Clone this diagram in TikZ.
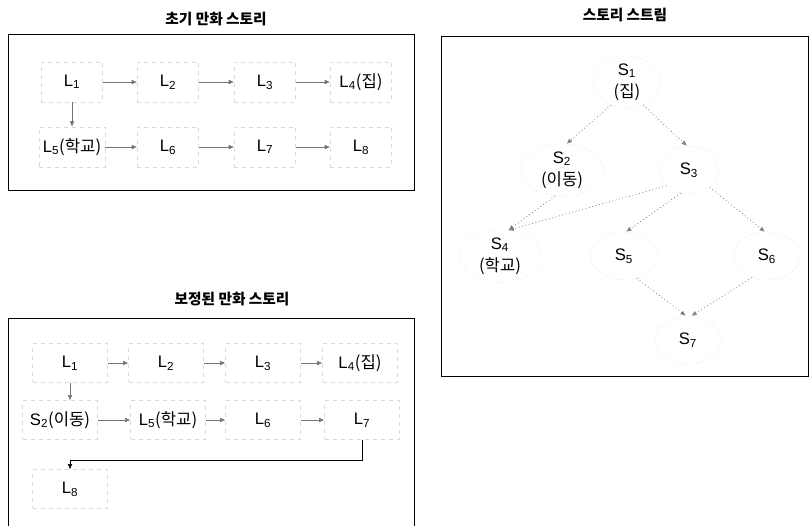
\documentclass[tikz,border=0pt]{standalone}
\usepackage{fontspec}
\setmainfont{Liberation Sans}
\newfontfamily\kr{Noto Sans CJK KR}
\usetikzlibrary{arrows.meta,shapes.geometric}
\newcommand\lsub[2]{#1\textsubscript{#2}}
\tikzset{
  panel/.style={draw=black,line width=0.6pt},
  ptitle/.style={font=\kr\bfseries\fontsize{11}{13}\selectfont},
  lbox/.style={draw=gray!30,dashed,rectangle,minimum width=46pt,minimum height=30pt,inner sep=3pt,font=\fontsize{12.5}{14}\selectfont},
  lboxb/.style={lbox,minimum width=56pt,minimum height=29pt},
  snode/.style={draw=gray!40,dotted,ellipse,inner sep=0pt,minimum width=50pt,minimum height=36pt,align=center,font=\fontsize{12.5}{16.5}\selectfont},
  conn/.style={draw=black!55,line width=0.45pt,-{Latex[length=4pt,width=3.5pt]}},
  sconn/.style={draw=black!50,dotted,line width=0.6pt,-{Latex[length=4pt,width=3.5pt]}}
}
\begin{document}
\begin{tikzpicture}[x=0.75pt,y=-0.75pt]
\useasboundingbox (0,0) rectangle (810,526);
% ---------- panel 1
\node[ptitle] (t1) at (216,19) {초기 만화 스토리};
\draw[panel] (8,34) rectangle (414,190);
\node[lbox] (a1) at (72,82) {\lsub{L}{1}};
\node[lbox] (a2) at (168,82) {\lsub{L}{2}};
\node[lbox] (a3) at (265,82) {\lsub{L}{3}};
\node[lbox] (a4) at (361,82) {\lsub{L}{4}{\kr(집)}};
\node[lbox] (a5) at (72,147) {\lsub{L}{5}{\kr(학교)}};
\node[lbox] (a6) at (168,147) {\lsub{L}{6}};
\node[lbox] (a7) at (265,147) {\lsub{L}{7}};
\node[lbox] (a8) at (361,147) {\lsub{L}{8}};
\draw[conn] (a1) -- (a2);
\draw[conn] (a2) -- (a3);
\draw[conn] (a3) -- (a4);
\draw[conn] (a1) -- (a5);
\draw[conn] (a5) -- (a6);
\draw[conn] (a6) -- (a7);
\draw[conn] (a7) -- (a8);
% ---------- panel 3
\node[ptitle] (t3) at (232,299) {보정된 만화 스토리};
\draw[panel] (8,526) -- (8,318) -- (414,318) -- (414,526);
\node[lboxb] (b1) at (70,363) {\lsub{L}{1}};
\node[lboxb] (b2) at (166,363) {\lsub{L}{2}};
\node[lboxb] (b3) at (263,363) {\lsub{L}{3}};
\node[lboxb] (b4) at (360,363) {\lsub{L}{4}{\kr(집)}};
\node[lboxb] (b5) at (60,420) {\lsub{S}{2}{\kr(이동)}};
\node[lboxb] (b6) at (168,420) {\lsub{L}{5}{\kr(학교)}};
\node[lboxb] (b7) at (263,420) {\lsub{L}{6}};
\node[lboxb] (b8) at (362,420) {\lsub{L}{7}};
\node[lboxb] (b9) at (70,489) {\lsub{L}{8}};
\coordinate (turn) at (362,460);
\draw[conn] (b1) -- (b2);
\draw[conn] (b2) -- (b3);
\draw[conn] (b3) -- (b4);
\draw[conn] (b1.south) -- (b1.south |- b5.north);
\draw[conn] (b5) -- (b6);
\draw[conn] (b6) -- (b7);
\draw[conn] (b7) -- (b8);
\draw[conn,draw=black] (b8.south) -- (turn) -| (b9.north);
% ---------- panel 2
\node[ptitle] (t2) at (625,15) {스토리 스트림};
\draw[panel] (441,36) rectangle (808,376);
\node[snode] (s1) at (627,82) {\lsub{S}{1}\\{\kr(집)}};
\node[snode,minimum width=62pt] (s2) at (562,170) {\lsub{S}{2}\\{\kr(이동)}};
\node[snode,minimum width=44pt] (s3) at (689,170) {\lsub{S}{3}};
\node[snode,minimum width=62pt] (s4) at (500,256) {\lsub{S}{4}\\{\kr(학교)}};
\node[snode] (s5) at (624,256) {\lsub{S}{5}};
\node[snode] (s6) at (767,256) {\lsub{S}{6}};
\node[snode] (s7) at (688,340) {\lsub{S}{7}};
\draw[sconn] (s1.235) -- (s2.80);
\draw[sconn] (s1.305) -- (s3.95);
\draw[sconn] (s2.255) -- (s4.72);
\draw[sconn] (s3.215) -- (s4.72);
\draw[sconn] (s3.250) -- (s5.85);
\draw[sconn] (s3.320) -- (s6.95);
\draw[sconn] (s5.300) -- (s7.95);
\draw[sconn] (s6.235) -- (s7.82);
\end{tikzpicture}
\end{document}
